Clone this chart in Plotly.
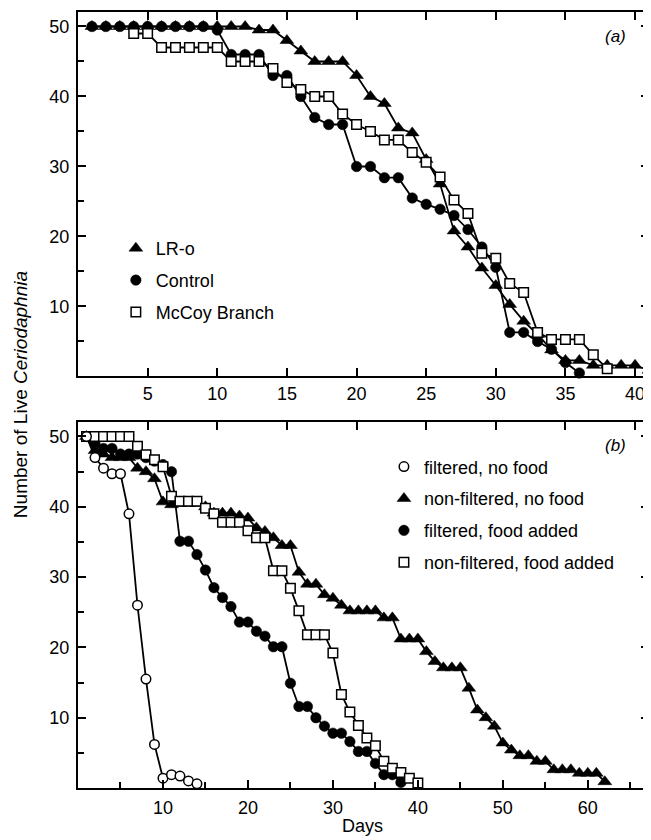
import plotly.graph_objects as go

# ---------------- Panel (a) data ----------------
days_lro = list(range(1, 42))
lro = [50, 50, 50, 50, 50, 50, 50, 50, 50, 50, 50, 50,
       49.5, 49.5, 48, 46.5, 45, 45, 45, 43, 40, 39, 35.5, 34.8, 31, 27.5,
       20.8, 18.5, 15.5, 13, 10.3, 7.9, 6, 3.8, 2.3, 2.3, 1.6, 1.6, 1.6, 1.6, 0.9]

days_control = list(range(1, 37))
control = [50, 50, 50, 50, 50, 50, 50, 50, 50, 49.5,
           46, 46, 46, 43, 43, 40, 37, 36, 36, 30,
           30, 28.4, 28.4, 25.5, 24.6, 23.9, 23, 21, 18.5, 15.6,
           6.3, 6.3, 5, 3.9, 2, 0.5]

days_mccoy = list(range(4, 39))
mccoy = [49, 49, 47, 47, 47, 47, 47, 45, 45, 45, 44, 42, 41, 40, 40, 37.5,
         36, 35, 33.8, 33.8, 32, 30.6, 28.5, 25.2, 23.3, 17.6, 16.9, 13.3, 12,
         6.3, 5.3, 5.3, 5.3, 3.1, 1.1]

# ---------------- Panel (b) data ----------------
days_fnf = list(range(1, 15))
filt_nofood = [50, 47, 45.5, 44.7, 44.7, 39, 26, 15.5, 6.2, 1.4, 1.9, 1.7, 1, 0.6]

days_nfnf = list(range(1, 63))
nonfilt_nofood = [50, 48, 47.5, 47, 47, 47, 45.5, 45, 44, 40.7,
                  40.3, 40.5, 40.5, 40.5, 40, 39.1, 39.1, 39.1, 38.7, 38.4,
                  37, 36.5, 35.6, 34.5, 34.5, 30.7, 29, 29, 27.5, 27,
                  26, 25.2, 25.2, 25.2, 25.2, 24.2, 24.2, 21.2, 21.2, 21.2,
                  19.4, 18, 17.1, 17.1, 17.1, 14.2, 11.1, 10, 8.8, 6.4,
                  5.4, 4.6, 4.6, 3.8, 3.8, 2.6, 2.6, 2.6, 2.1, 2.1,
                  2.1, 0.9]

days_ffa = list(range(1, 39))
filt_food = [50, 49, 48.3, 48.3, 47.5, 47.5, 47.5, 47, 46.5, 46,
             45, 35.1, 35.1, 33.2, 31, 28.5, 27.1, 25.8, 23.6, 23.6,
             22.3, 21.6, 20.1, 20.1, 14.9, 11.6, 11.6, 10, 8.8, 7.8,
             7.8, 6.6, 5.2, 5.2, 3.5, 1.9, 1.9, 0.8]

days_nffa = list(range(1, 41))
nonfilt_food = [50, 50, 50, 50, 50, 50, 48.6, 47.4, 46.7, 45.7,
                41.5, 40.8, 40.8, 40.8, 39.8, 39, 37.8, 37.8, 37.8, 36.6,
                35.6, 35.6, 30.9, 30.9, 28.4, 25.2, 21.8, 21.8, 21.8, 19.2,
                13.3, 10.8, 8.9, 7.1, 6, 3.8, 2.8, 2.2, 1.4, 0.7]

xticks_a = [5, 10, 15, 20, 25, 30, 35, 40]
xticks_b = [10, 20, 30, 40, 50, 60]
yticks = [10, 20, 30, 40, 50]

FONT = "Liberation Sans, Arial, Helvetica, sans-serif"
LW = 1.8

tri = dict(symbol="triangle-up", size=12, color="black", line=dict(color="black", width=0.5))
dot = dict(symbol="circle", size=10.5, color="black", line=dict(color="black", width=0.5))
sq = dict(symbol="square", size=9.5, color="white", line=dict(color="black", width=1.5))
ocirc = dict(symbol="circle", size=9.5, color="white", line=dict(color="black", width=1.5))

fig = go.Figure()

def series(x, y, marker, xa, ya):
    fig.add_trace(go.Scatter(x=x, y=y, mode="lines+markers", marker=marker,
                             line=dict(color="black", width=LW), showlegend=False,
                             xaxis=xa, yaxis=ya, cliponaxis=False, hoverinfo="x+y"))

def legend_entry(name, marker, leg, grp):
    fig.add_trace(go.Scatter(x=[None], y=[None], mode="markers", marker=marker, name=name,
                             legend=leg, legendgroup=grp, showlegend=True,
                             xaxis="x", yaxis="y"))

# panel a
series(days_lro, lro, tri, "x", "y")
series(days_control, control, dot, "x", "y")
series(days_mccoy, mccoy, sq, "x", "y")
# panel b
series(days_nfnf, nonfilt_nofood, tri, "x2", "y2")
series(days_ffa, filt_food, dot, "x2", "y2")
series(days_nffa, nonfilt_food, sq, "x2", "y2")
series(days_fnf, filt_nofood, ocirc, "x2", "y2")
# placeholder so the top tick axis of panel b is drawn
fig.add_trace(go.Scatter(x=[None], y=[None], xaxis="x3", yaxis="y2", showlegend=False, hoverinfo="skip"))

legend_entry("LR-o", tri, "legend", "a1")
legend_entry("Control", dot, "legend", "a2")
legend_entry("McCoy Branch", sq, "legend", "a3")
legend_entry("filtered, no food", ocirc, "legend2", "b1")
legend_entry("non-filtered, no food", tri, "legend2", "b2")
legend_entry("filtered, food added", dot, "legend2", "b3")
legend_entry("non-filtered, food added", sq, "legend2", "b4")

axis_common = dict(showline=True, linecolor="black", linewidth=2, ticks="inside", ticklen=8,
                   tickwidth=1.5, tickcolor="black", showgrid=False, zeroline=False,
                   tickfont=dict(family=FONT, size=18, color="black"))
minor = dict(ticks="inside", ticklen=6, tickwidth=1.5, tickcolor="black", dtick=5, tick0=0, showgrid=False)

fig.update_layout(
    width=643, height=832,
    margin=dict(l=70, r=0, t=4, b=52),
    paper_bgcolor="white", plot_bgcolor="white",
    font=dict(family=FONT, size=18, color="black"),
    xaxis=dict(**axis_common, domain=[0, 1], range=[0, 41], tickvals=xticks_a,
               mirror="ticks", anchor="y", ticklabelstandoff=0),
    yaxis=dict(**axis_common, domain=[0.5303, 1], range=[0, 52.07], tickvals=yticks,
               mirror="ticks", anchor="x", minor=minor, ticklabelstandoff=3),
    xaxis2=dict(**axis_common, domain=[0, 1], range=[0, 67.2], tickvals=xticks_b,
                mirror=True, anchor="y2", minor=minor, ticklabelstandoff=2),
    yaxis2=dict(**axis_common, domain=[0, 0.472], range=[0, 52.1], tickvals=yticks,
                mirror="ticks", anchor="x2", minor=minor, ticklabelstandoff=3),
    xaxis3=dict(overlaying="x2", anchor="y2", side="top", range=[0, 41], tickvals=xticks_a,
                showticklabels=False, ticks="inside", ticklen=8, tickwidth=1.5, tickcolor="black",
                showline=False, showgrid=False, zeroline=False),
    legend=dict(x=0.0663, y=0.7191, xanchor="left", yanchor="top", bgcolor="rgba(0,0,0,0)",
                font=dict(family=FONT, size=18), tracegroupgap=5.5, itemwidth=30),
    legend2=dict(x=0.5358, y=0.4377, xanchor="left", yanchor="top", bgcolor="rgba(0,0,0,0)",
                 font=dict(family=FONT, size=18), tracegroupgap=5.5, itemwidth=30),
    annotations=[
        dict(text="(a)", x=0.9407, y=0.9678, xref="paper", yref="paper", showarrow=False,
             font=dict(family=FONT, size=17, style="italic"), xanchor="center", yanchor="middle"),
        dict(text="(b)", x=0.9407, y=0.442, xref="paper", yref="paper", showarrow=False,
             font=dict(family=FONT, size=17, style="italic"), xanchor="center", yanchor="middle"),
        dict(text="Days", x=0.4991, y=-0.049, xref="paper", yref="paper", showarrow=False,
             font=dict(family=FONT, size=18), xanchor="center", yanchor="middle"),
        dict(text="Number of Live <i>Ceriodaphnia</i>", x=-0.0995, y=0.5065, xref="paper", yref="paper",
             showarrow=False, textangle=-90, font=dict(family=FONT, size=19),
             xanchor="center", yanchor="middle"),
    ],
)

fig.write_html("out.html")
